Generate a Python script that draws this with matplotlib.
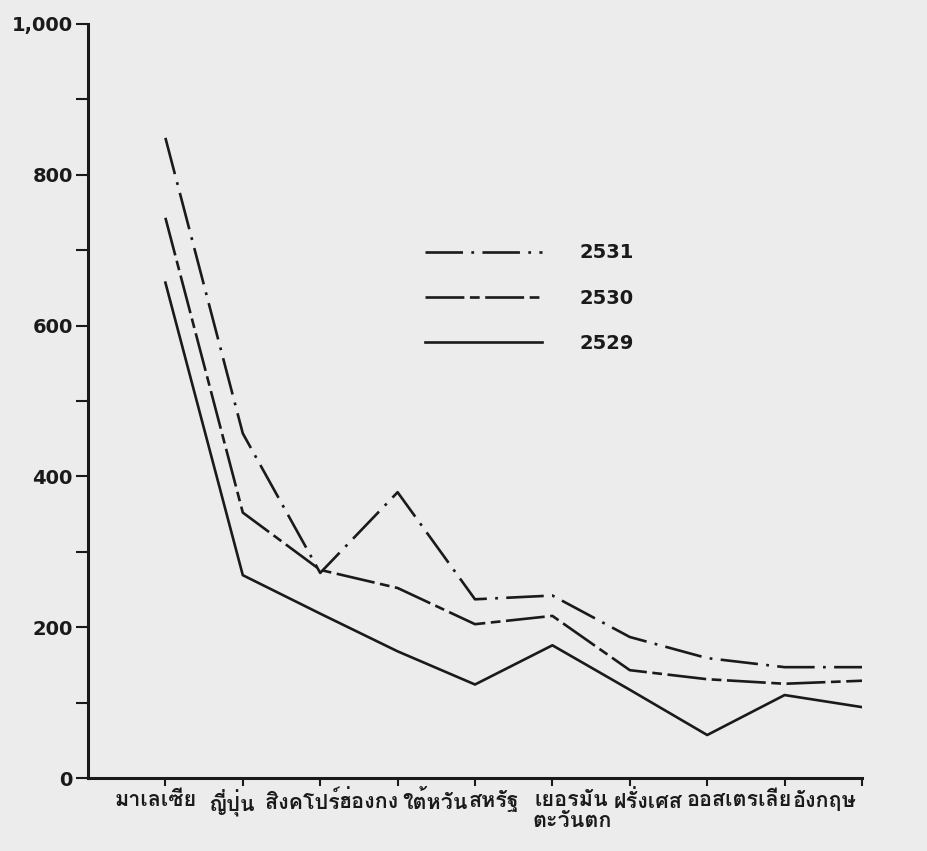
import numpy as np
import matplotlib
matplotlib.use("Agg")
import matplotlib.pyplot as plt
from matplotlib import font_manager
from matplotlib.ft2font import FT2Font
from matplotlib.ticker import MultipleLocator, FuncFormatter

# ข้อมูล (อ่านจากกราฟ)
countries = ["มาเลเซีย", "ญี่ปุ่น", "สิงคโปร์", "ฮ่องกง", "ใต้หวัน", "สหรัฐ",
             "เยอรมัน\nตะวันตก", "ฝรั่งเศส", "ออสเตรเลีย", "อังกฤษ"]
years = ["2531", "2530", "2529"]
v2531 = [849, 457, 272, 379, 237, 242, 187, 159, 147, 147]
v2530 = [743, 352, 276, 252, 204, 215, 143, 131, 125, 129]
v2529 = [657, 269, 218, 168, 124, 176, 117, 57, 110, 94]


def find_thai_font():
    # หาฟอนต์ที่มีอักษรไทย
    for f in font_manager.fontManager.ttflist:
        try:
            if 0x0E01 in FT2Font(f.fname).get_charmap():
                return f.name
        except Exception:
            pass
    return "DejaVu Sans"


thai = find_thai_font()
plt.rcParams["lines.scale_dashes"] = False
ink = "#1a1a1a"

fig = plt.figure(figsize=(9.27, 8.51), dpi=100, facecolor="#ececec")
ax = fig.add_axes([88 / 927, 1 - 778 / 851, 774 / 927, 754 / 851])
ax.set_facecolor("none")

x = np.arange(1, len(countries) + 1)
styles = {
    "2531": dict(dashes=(27, 6, 2, 6)),
    "2530": dict(dashes=(28, 4, 7, 4)),
    "2529": dict(linestyle="-"),
}
for yr, vals in zip(years, [v2531, v2530, v2529]):
    ax.plot(x, vals, color=ink, lw=1.9, label=yr, **styles[yr])

ax.set_xlim(0, 10)
ax.set_ylim(0, 1000)
for s in ["top", "right"]:
    ax.spines[s].set_visible(False)
for s in ["left", "bottom"]:
    ax.spines[s].set_linewidth(2.2)
    ax.spines[s].set_color(ink)

ax.yaxis.set_major_locator(MultipleLocator(200))
ax.yaxis.set_minor_locator(MultipleLocator(100))
ax.yaxis.set_major_formatter(FuncFormatter(lambda v, p: f"{int(v):,}"))
ax.tick_params(axis="y", which="both", length=9, width=1.5, color=ink,
               labelsize=14, labelcolor=ink, pad=2)
for t in ax.get_yticklabels():
    t.set_fontweight("bold")
ax.set_xticks(x)
ax.set_xticklabels([])
ax.tick_params(axis="x", length=6, width=1.5, color=ink)

# ตัวหนังสือชื่อประเทศ (วางเบียดกันแบบต้นฉบับ)
label_x = [0.88, 1.86, 2.77, 3.63, 4.48, 5.25, 6.25, 7.24, 8.42, 9.52]
for lx, name in zip(label_x, countries):
    ax.text(lx, -0.016, name, transform=ax.get_xaxis_transform(),
            ha="center", va="top", fontsize=15.5, fontweight="bold",
            family=[thai, "DejaVu Sans"], color=ink, linespacing=1.05)

leg = ax.legend(loc="upper left", bbox_to_anchor=(0.436, 0.709), frameon=False,
                prop=dict(size=14, weight="bold"), handlelength=6.0,
                handletextpad=1.9, labelspacing=1.35, borderpad=0,
                borderaxespad=0)
for t in leg.get_texts():
    t.set_color(ink)

fig.savefig("out.png", dpi=100, facecolor=fig.get_facecolor())
